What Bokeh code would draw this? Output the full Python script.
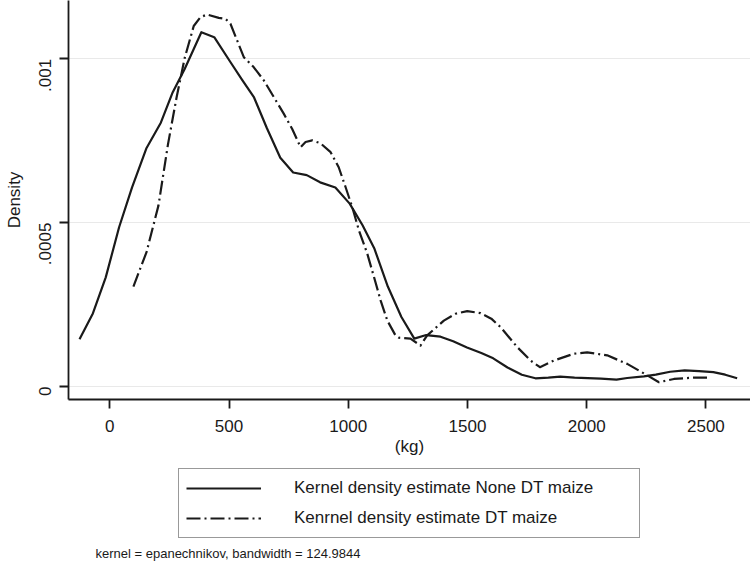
import math
from bokeh.plotting import figure
from bokeh.layouts import column
from bokeh.models import (Range1d, FixedTicker, CustomJSTickFormatter, Legend,
                          LegendItem, Label)
from bokeh.embed import file_html
from bokeh.resources import INLINE

# ---- data ----
none_dt_x = [-127, -71, -17, 39, 93, 153, 214, 264, 314, 384, 438, 505, 555, 605,
             659, 715, 769, 826, 882, 946, 1006, 1060, 1110, 1166, 1223, 1277, 1327,
             1387, 1440, 1498, 1558, 1608, 1668, 1728, 1785, 1839, 1889, 1949, 2060,
             2125, 2170, 2240, 2290, 2350, 2411, 2471, 2531, 2581, 2631]
none_dt_d = [0.000144, 0.000223, 0.000333, 0.000486, 0.000607, 0.000726, 0.000805,
             0.000898, 0.000969, 0.001081, 0.001066, 0.000991, 0.000936, 0.000882,
             0.000788, 0.000698, 0.000653, 0.000645, 0.000623, 0.000607, 0.000558,
             0.000492, 0.000420, 0.000305, 0.000212, 0.000146, 0.000157, 0.000152,
             0.000138, 0.000119, 0.000102, 0.000086, 0.000058, 0.000036, 0.000025,
             0.000027, 0.000030, 0.000027, 0.000024, 0.000021, 0.000026, 0.000031,
             0.000036, 0.000045, 0.000049, 0.000047, 0.000044, 0.000036, 0.000025]

dt_x = [99, 154, 204, 244, 280, 314, 352, 380, 408, 457, 485, 506, 534, 562, 604,
        646, 688, 730, 765, 800, 821, 849, 884, 926, 960, 989, 1017, 1045, 1080,
        1108, 1136, 1164, 1198, 1212, 1261, 1303, 1331, 1401, 1450, 1499, 1555,
        1600, 1639, 1709, 1765, 1804, 1862, 1946, 2002, 2086, 2170, 2254, 2303,
        2366, 2450, 2506]
dt_d = [0.000305, 0.000410, 0.000552, 0.000739, 0.000882, 0.001002, 0.001100,
        0.001127, 0.001135, 0.001125, 0.001122, 0.001107, 0.001056, 0.001005,
        0.000974, 0.000934, 0.000883, 0.000832, 0.000786, 0.000730, 0.000746,
        0.000751, 0.000742, 0.000715, 0.000669, 0.000608, 0.000547, 0.000476,
        0.000405, 0.000334, 0.000262, 0.000201, 0.000156, 0.000149, 0.000146,
        0.000125, 0.000156, 0.000201, 0.000222, 0.000230, 0.000224, 0.000207,
        0.000181, 0.000120, 0.000079, 0.000059, 0.000079, 0.000100, 0.000104,
        0.000095, 0.000069, 0.000034, 0.000013, 0.000023, 0.000027, 0.000027]

x_ticks = [0, 500, 1000, 1500, 2000, 2500]
y_ticks = [0, 0.0005, 0.001]

label_none = "Kernel density estimate None DT maize"
label_dt = "Kenrnel density estimate DT maize"
note_text = "kernel = epanechnikov, bandwidth = 124.9844"

FONT = "Liberation Sans"
INK = "#1a1a1a"
DASH = "14 4 2 4"

# ---------------- main plot ----------------
p = figure(width=750, height=460, output_backend="svg", toolbar_location=None,
           x_range=Range1d(-173.2, 2687), y_range=Range1d(-0.0000397, 0.0011779),
           min_border_left=68, min_border_right=0, min_border_top=0,
           min_border_bottom=61)
p.outline_line_color = None

p.line(none_dt_x, none_dt_d, line_color=INK, line_width=2.2, line_join="round")
p.line(dt_x, dt_d, line_color=INK, line_width=2.2, line_dash=DASH, line_join="round")

p.xaxis.ticker = FixedTicker(ticks=x_ticks)
p.yaxis.ticker = FixedTicker(ticks=y_ticks)
p.yaxis.formatter = CustomJSTickFormatter(
    code="return tick == 0 ? '0' : tick.toString().replace(/^0/, '');")
p.yaxis.major_label_orientation = math.pi / 2
for ax in (p.xaxis, p.yaxis):
    ax.axis_line_color = INK
    ax.axis_line_width = 1.8
    ax.major_tick_line_color = INK
    ax.major_tick_line_width = 1.8
    ax.major_tick_out = 9
    ax.major_tick_in = 0
    ax.minor_tick_line_color = None
    ax.major_label_text_font = FONT
    ax.major_label_text_font_size = "17px"
    ax.major_label_text_color = INK
    ax.axis_label_text_font = FONT
    ax.axis_label_text_font_size = "17px"
    ax.axis_label_text_font_style = "normal"
    ax.axis_label_text_color = INK
p.xaxis.axis_label = "(kg)"
p.yaxis.axis_label = "Density"
p.xaxis.major_label_standoff = 11
p.xaxis.axis_label_standoff = 2
p.yaxis.major_label_standoff = 14
p.yaxis.axis_label_standoff = 7

p.xgrid.visible = False
p.ygrid.ticker = FixedTicker(ticks=y_ticks)
p.ygrid.grid_line_color = "#e9e9e9"
p.ygrid.grid_line_width = 1.2

# ---------------- legend + note strip ----------------
q = figure(width=750, height=104, output_backend="svg", toolbar_location=None,
           x_range=Range1d(0, 1), y_range=Range1d(0, 1),
           min_border_left=0, min_border_right=0, min_border_top=0,
           min_border_bottom=0)
q.axis.visible = False
q.grid.visible = False
q.outline_line_color = None
k1 = q.line(none_dt_x, none_dt_d, line_color=INK, line_width=2.2, visible=False)
k2 = q.line(dt_x, dt_d, line_color=INK, line_width=2.2, line_dash=DASH, visible=False)

legend = Legend(items=[LegendItem(label=label_none, renderers=[k1]),
                       LegendItem(label=label_dt, renderers=[k2])],
                location=(110, 26), orientation="vertical",
                glyph_width=75, glyph_height=24, label_height=24, label_width=338,
                label_standoff=33, spacing=6, padding=7, margin=0,
                border_line_color="#333333", border_line_width=1.5,
                background_fill_color="white", background_fill_alpha=1,
                inactive_fill_alpha=0,
                label_text_font=FONT, label_text_font_size="17px",
                label_text_color=INK)
q.add_layout(legend, "center")

note = Label(x=27, y=11, x_units="screen", y_units="screen", text=note_text,
             text_font=FONT, text_font_size="13px", text_color=INK,
             text_baseline="middle")
q.add_layout(note)

open("out.html", "w").write(file_html(column(p, q), INLINE))
